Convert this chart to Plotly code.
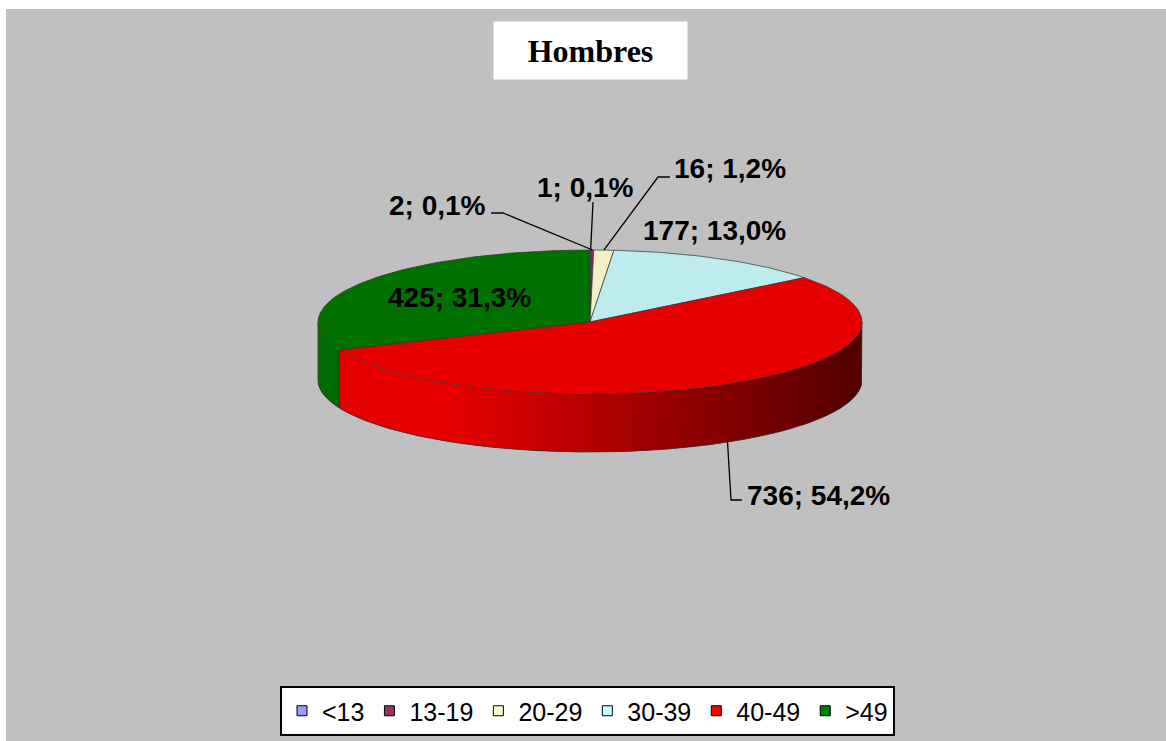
import numpy as np
import plotly.graph_objects as go

# ---- data ----
categories = ['<13', '13-19', '20-29', '30-39', '40-49', '>49']
counts = [1, 2, 16, 177, 736, 425]
title_text = 'Hombres'

# ---- styling ----
top_colors = ['rgb(140,140,235)', 'rgb(140,45,95)', 'rgb(242,240,195)',
              'rgb(190,236,236)', 'rgb(232,0,0)', 'rgb(0,112,0)']
legend_colors = ['#9999FF', '#993366', '#FFFFCC', '#CCFFFF', '#FF0000', '#008000']
wall_light = [(150, 150, 240), (150, 50, 100), (230, 228, 180), (170, 215, 215), (230, 0, 0), (0, 106, 0)]
wall_dark = [(70, 70, 130), (70, 20, 45), (120, 118, 90), (90, 115, 115), (86, 0, 0), (0, 50, 0)]
edge = '#333333'
font_lab = 'Liberation Sans, Arial, sans-serif'

W, H = 1166, 741
# pie geometry (page pixels)
cx, cy = 590, 322
rx, ry = 272, 72
depth = 58

total = sum(counts)
bounds = np.concatenate([[0], np.cumsum(counts)]) / total * 2 * np.pi


def ell(theta, dz=0.0):
    # clockwise from 12 o'clock, like the excel 3d pie
    return cx + rx * np.sin(theta), cy - ry * np.cos(theta) + dz


def shade(i, x):
    t = np.clip((x - 450) / 400.0, 0, 1)
    a, b = wall_light[i], wall_dark[i]
    c = [int(round(a[k] + (b[k] - a[k]) * t)) for k in range(3)]
    return 'rgb(%d,%d,%d)' % tuple(c)


fig = go.Figure()

# front walls (only the half that faces the viewer)
for i in range(len(counts)):
    t0 = max(bounds[i], np.pi / 2)
    t1 = min(bounds[i + 1], 3 * np.pi / 2)
    if t1 <= t0:
        continue
    n = max(int(np.degrees(t1 - t0)), 1)
    steps = np.linspace(t0, t1, n + 1)
    step = steps[1] - steps[0]
    for a, b in zip(steps[:-1], steps[1:]):
        # overlap into the next strip so no seams show
        th = np.linspace(a, min(b + step, t1), 5)
        xt, yt = ell(th)
        xb, yb = ell(th[::-1], depth)
        col = shade(i, ell((a + b) / 2)[0])
        fig.add_trace(go.Scatter(x=np.r_[xt, xb, xt[0]], y=np.r_[yt, yb, yt[0]],
                                 fill='toself', fillcolor=col, mode='lines',
                                 line=dict(width=0),
                                 hoverinfo='skip', showlegend=False))
    th = np.linspace(t0, t1, 120)
    xb, yb = ell(th, depth)
    xs0, ys0 = ell(t0)
    xs1, ys1 = ell(t1)
    fig.add_trace(go.Scatter(x=np.r_[xs0, xb, xs1], y=np.r_[ys0, yb, ys1],
                             mode='lines', line=dict(color=edge, width=0.8),
                             hoverinfo='skip', showlegend=False))

# top faces
for i in range(len(counts)):
    th = np.linspace(bounds[i], bounds[i + 1], max(int(np.degrees(bounds[i + 1] - bounds[i])), 2) + 1)
    xa, ya = ell(th)
    fig.add_trace(go.Scatter(x=np.r_[cx, xa, cx], y=np.r_[cy, ya, cy],
                             fill='toself', fillcolor=top_colors[i], mode='lines',
                             line=dict(color=edge, width=0.7),
                             hoverinfo='skip', showlegend=False))

# data labels
label_pos = {'<13': (585, 187), '13-19': (437, 205), '20-29': (730, 168),
             '30-39': (714, 230), '40-49': (818, 495), '>49': (459, 297)}
leader_elbow = {'<13': [(593, 202)], '13-19': [(491, 213), (503, 213)],
                '20-29': [(670, 177), (658, 177)], '40-49': [(742, 500), (731, 500)]}

annotations = []
for i, cat in enumerate(categories):
    pct = counts[i] / total * 100
    txt = ('%d; %.1f%%' % (counts[i], pct)).replace('.', ',')
    x, y = label_pos[cat]
    annotations.append(dict(x=x, y=y, xref='x', yref='y', text='<b>%s</b>' % txt,
                            showarrow=False, xanchor='center', yanchor='middle',
                            font=dict(family=font_lab, size=28, color='black')))
    if cat in leader_elbow:
        mid = (bounds[i] + bounds[i + 1]) / 2
        ax, ay = ell(mid, depth if np.cos(mid) < 0 else 0)
        pts = leader_elbow[cat] + [(ax, ay)]
        fig.add_trace(go.Scatter(x=[p[0] for p in pts], y=[p[1] for p in pts],
                                 mode='lines', line=dict(color='black', width=1.3),
                                 hoverinfo='skip', showlegend=False))

# title box
annotations.append(dict(x=590.5, y=50.5, xref='x', yref='y', text='<b>%s</b>' % title_text,
                        showarrow=False, bgcolor='white', width=193, height=57, borderpad=0,
                        xanchor='center', yanchor='middle',
                        font=dict(family='Liberation Serif, Times New Roman, serif', size=32, color='black')))

# legend entries
for i, cat in enumerate(categories):
    fig.add_trace(go.Scatter(x=[None], y=[None], mode='markers', name=cat,
                             marker=dict(symbol='square', size=10, color=legend_colors[i],
                                         line=dict(color='black', width=1))))

fig.update_layout(
    width=W, height=H, autosize=False,
    margin=dict(l=0, r=0, t=0, b=0),
    paper_bgcolor='white', plot_bgcolor='white',
    xaxis=dict(range=[0, W], visible=False, fixedrange=True),
    yaxis=dict(range=[H, 0], visible=False, fixedrange=True),
    shapes=[dict(type='rect', xref='x', yref='y', x0=6, y0=9, x1=W, y1=H,
                 fillcolor='#C0C0C0', line=dict(width=0), layer='below')],
    annotations=annotations,
    legend=dict(orientation='h', x=280 / W, y=1 - 686 / H, xanchor='left', yanchor='top',
                bgcolor='white', bordercolor='black', borderwidth=2,
                font=dict(family=font_lab, size=25, color='black'),
                itemclick=False, itemdoubleclick=False),
    showlegend=True,
)

fig.write_html('out.html', config={'displayModeBar': False},
               post_script="document.body.style.margin='0';document.body.style.overflow='hidden';")
